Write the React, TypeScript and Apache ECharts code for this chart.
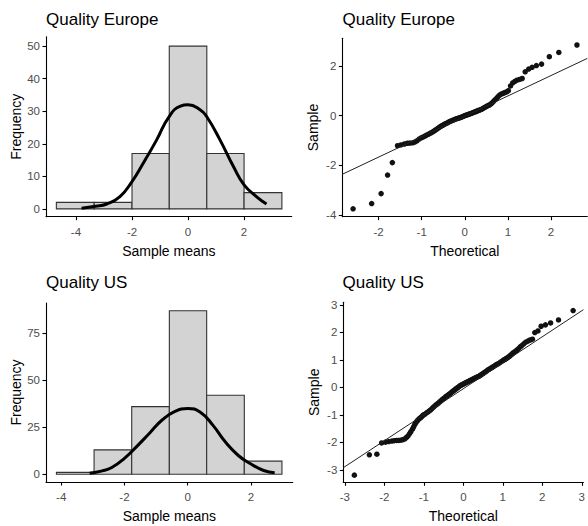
import React, { useEffect, useRef } from "react";
import * as echarts from "echarts";

// ---------- Data ----------
// Quality Europe histogram
const EU_BIN_EDGES = [-4.7, -3.35, -2.0, -0.67, 0.67, 2.0, 3.35];
const EU_COUNTS = [2, 2, 17, 50, 17, 5];
const EU_CURVE_X = [-3.8, -3.3, -2.9, -2.43, -2.0, -1.6, -1.12, -0.68, -0.27, 0, 0.44, 0.67, 1.14, 1.62, 2.0, 2.44, 2.8];
const EU_CURVE_Y = [0.2, 0.8, 1.5, 3.8, 8.4, 14, 21.2, 28.3, 31.6, 32, 30.4, 28.3, 21.2, 13, 7.4, 3.8, 1.5];

// Quality US histogram
const US_BIN_EDGES = [-4.15, -2.96, -1.77, -0.58, 0.6, 1.79, 2.98];
const US_COUNTS = [1, 13, 36, 87, 42, 7];
const US_CURVE_X = [-3.1, -2.7, -2.4, -2.0, -1.6, -1.2, -0.8, -0.4, 0, 0.4, 0.8, 1.2, 1.6, 2.0, 2.4, 2.75];
const US_CURVE_Y = [0.6, 1.8, 3.6, 8.5, 15, 22, 29, 33.5, 35, 33, 26, 17, 10, 5.5, 2, 0.8];

// Quality Europe QQ plot
const EU_QQ_THEO = [
  -2.59, -2.16, -1.94, -1.79, -1.68, -1.56, -1.48, -1.40, -1.33, -1.27, -1.21, -1.16, -1.11, -1.06, -1.01,
  -0.97, -0.925, -0.885, -0.845, -0.807, -0.771, -0.735, -0.70, -0.666, -0.633, -0.60, -0.568, -0.537, -0.506,
  -0.475, -0.445, -0.416, -0.386, -0.357, -0.329, -0.30, -0.272, -0.245, -0.217, -0.19, -0.162, -0.135, -0.108,
  -0.081, -0.054, -0.027, 0, 0.027, 0.054, 0.081, 0.108, 0.135, 0.162, 0.19, 0.217, 0.245, 0.272, 0.30, 0.329,
  0.357, 0.386, 0.416, 0.445, 0.475, 0.506, 0.537, 0.568, 0.60, 0.633, 0.666, 0.70, 0.735, 0.771, 0.807, 0.845,
  0.885, 0.925, 0.97, 1.01, 1.06, 1.11, 1.16, 1.21, 1.27, 1.33, 1.40, 1.48, 1.56, 1.66, 1.78, 1.96, 2.18, 2.6,
];
const EU_QQ_SAMPLE = [
  -3.75, -3.54, -3.14, -2.39, -1.89, -1.21, -1.18, -1.14, -1.11, -1.10, -1.09, -1.06, -1.01, -0.94, -0.89,
  -0.86, -0.82, -0.78, -0.75, -0.71, -0.68, -0.64, -0.60, -0.56, -0.52, -0.48, -0.44, -0.41, -0.38,
  -0.35, -0.32, -0.30, -0.27, -0.24, -0.22, -0.20, -0.18, -0.16, -0.14, -0.12, -0.11, -0.09, -0.08,
  -0.06, -0.04, -0.02, 0.0, 0.02, 0.03, 0.05, 0.07, 0.08, 0.10, 0.12, 0.14, 0.16, 0.18, 0.20, 0.22,
  0.24, 0.26, 0.29, 0.32, 0.35, 0.38, 0.41, 0.43, 0.47, 0.52, 0.58, 0.64, 0.70, 0.77, 0.83, 0.87,
  0.90, 0.93, 0.96, 1.01, 1.20, 1.32, 1.38, 1.43, 1.46, 1.50, 1.77, 1.88, 1.95, 2.02, 2.08, 2.38, 2.55, 2.85,
];
const EU_QQ_LINE_X = [-2.84, 2.84];
const EU_QQ_LINE_Y = [-2.36, 2.31];

// Quality US QQ plot
const US_QQ_THEO = [
  -2.76, -2.38, -2.19, -2.07, -1.97, -1.89, -1.81, -1.75, -1.69, -1.635, -1.58, -1.53, -1.48, -1.44, -1.40,
  -1.36, -1.33, -1.29, -1.26, -1.23, -1.20, -1.17, -1.14, -1.11, -1.08, -1.06, -1.03, -1.01, -0.97,
  -0.925, -0.885, -0.845, -0.807, -0.771, -0.735, -0.70, -0.666, -0.633, -0.60, -0.568, -0.537, -0.506,
  -0.475, -0.445, -0.416, -0.386, -0.357, -0.329, -0.30, -0.272, -0.245, -0.217, -0.19, -0.162, -0.135,
  -0.108, -0.081, -0.054, -0.027, 0, 0.027, 0.054, 0.081, 0.108, 0.135, 0.162, 0.19, 0.217, 0.245, 0.272,
  0.30, 0.329, 0.357, 0.386, 0.416, 0.445, 0.475, 0.506, 0.537, 0.568, 0.60, 0.633, 0.666, 0.70, 0.735,
  0.771, 0.807, 0.845, 0.885, 0.925, 0.97, 1.01, 1.03, 1.06, 1.08, 1.11, 1.14, 1.17, 1.20, 1.23, 1.26,
  1.29, 1.33, 1.36, 1.40, 1.44, 1.48, 1.53, 1.58, 1.635, 1.69, 1.75, 1.81, 1.89, 1.97, 2.08, 2.21, 2.41, 2.78,
];
const US_QQ_SAMPLE = [
  -3.19, -2.45, -2.43, -2.02, -1.99, -1.97, -1.95, -1.94, -1.93, -1.93, -1.92, -1.90, -1.87, -1.82, -1.76,
  -1.68, -1.61, -1.52, -1.44, -1.35, -1.28, -1.22, -1.17, -1.13, -1.10, -1.07, -1.03, -1.00, -0.97,
  -0.92, -0.88, -0.84, -0.79, -0.74, -0.69, -0.65, -0.61, -0.57, -0.53, -0.49, -0.45, -0.41,
  -0.38, -0.34, -0.31, -0.28, -0.25, -0.22, -0.18, -0.15, -0.12, -0.09, -0.06, -0.03, 0.0,
  0.03, 0.06, 0.08, 0.10, 0.12, 0.14, 0.16, 0.18, 0.20, 0.22, 0.24, 0.26, 0.28, 0.30, 0.32,
  0.34, 0.36, 0.38, 0.40, 0.42, 0.45, 0.48, 0.51, 0.54, 0.57, 0.61, 0.64, 0.67, 0.70, 0.73,
  0.76, 0.80, 0.83, 0.86, 0.90, 0.94, 0.98, 1.00, 1.02, 1.04, 1.07, 1.10, 1.13, 1.17, 1.21, 1.25,
  1.28, 1.32, 1.36, 1.41, 1.47, 1.52, 1.58, 1.64, 1.68, 1.72, 1.75, 1.99, 2.05, 2.22, 2.27, 2.34, 2.45, 2.79,
];
const US_QQ_LINE_X = [-3.04, 3.04];
const US_QQ_LINE_Y = [-2.92, 2.82];

// Tick labels
const HIST_X_TICKS = [-4, -2, 0, 2];
const EU_HIST_Y_TICKS = [0, 10, 20, 30, 40, 50];
const US_HIST_Y_TICKS = [0, 25, 50, 75];
const EU_QQ_X_TICKS = [-2, -1, 0, 1, 2];
const EU_QQ_Y_TICKS = [-4, -2, 0, 2];
const US_QQ_X_TICKS = [-3, -2, -1, 0, 1, 2, 3];
const US_QQ_Y_TICKS = [-3, -2, -1, 0, 1, 2, 3];

const TITLES = ["Quality Europe", "Quality Europe", "Quality US", "Quality US"];

// ---------- Helpers ----------
const FONT = "Liberation Sans, Arial, sans-serif";

function binsToData(edges: number[], counts: number[]) {
  return counts.map((c, i) => [edges[i], edges[i + 1], c]);
}
function zip(xs: number[], ys: number[]) {
  return xs.map((x, i) => [x, ys[i]]);
}

function makeAxis(
  gridIndex: number,
  min: number,
  max: number,
  ticks: number[],
  name: string,
  isX: boolean
) {
  return {
    type: "value",
    gridIndex,
    min,
    max,
    name,
    nameLocation: "middle",
    nameGap: isX ? 27 : 22,
    nameTextStyle: { fontSize: 14, color: "#000", fontFamily: FONT },
    axisLine: { show: true, onZero: false, lineStyle: { color: "#000", width: 1.1 } },
    axisTick: {
      show: true,
      length: 3.5,
      customValues: ticks,
      lineStyle: { color: "#000", width: 1.1 },
    },
    axisLabel: {
      show: true,
      customValues: ticks,
      color: "#4d4d4d",
      fontSize: 11.5,
      fontFamily: FONT,
      margin: isX ? 9 : 6,
    },
    splitLine: { show: false },
  };
}

function histRenderItem(params: any, api: any) {
  const lo = api.value(0);
  const hi = api.value(1);
  const c = api.value(2);
  const p0 = api.coord([lo, c]);
  const p1 = api.coord([hi, 0]);
  return {
    type: "rect",
    shape: { x: p0[0], y: p0[1], width: p1[0] - p0[0], height: p1[1] - p0[1] },
    style: { fill: "#d3d3d3", stroke: "#333333", lineWidth: 1.1 },
  };
}

export default function App() {
  const ref = useRef<HTMLDivElement>(null);

  useEffect(() => {
    if (!ref.current) return;
    const chart = echarts.init(ref.current, null, { renderer: "svg" });

    const grids = [
      { left: 46, top: 36.7, width: 245.7, height: 180 },
      { left: 342.3, top: 38.3, width: 245, height: 178.4 },
      { left: 46, top: 303, width: 246.7, height: 179 },
      { left: 343.3, top: 302.3, width: 243.7, height: 180 },
    ];

    const titlePos = [
      { left: 46, top: 11 },
      { left: 342.5, top: 11 },
      { left: 46, top: 274 },
      { left: 342.5, top: 274 },
    ];

    const option: any = {
      animation: false,
      backgroundColor: "#fff",
      textStyle: { fontFamily: FONT },
      title: TITLES.map((t, i) => ({
        text: t,
        left: titlePos[i].left,
        top: titlePos[i].top,
        padding: 0,
        textStyle: { fontSize: 17, fontWeight: "normal", color: "#000", fontFamily: FONT },
      })),
      grid: grids.map((g) => ({ ...g, containLabel: false })),
      xAxis: [
        makeAxis(0, -5.07, 3.7, HIST_X_TICKS, "Sample means", true),
        makeAxis(1, -2.84, 2.84, EU_QQ_X_TICKS, "Theoretical", true),
        makeAxis(2, -4.48, 3.32, HIST_X_TICKS, "Sample means", true),
        makeAxis(3, -3.04, 3.04, US_QQ_X_TICKS, "Theoretical", true),
      ],
      yAxis: [
        makeAxis(0, -2.4, 52.9, EU_HIST_Y_TICKS, "Frequency", false),
        makeAxis(1, -4.07, 3.12, EU_QQ_Y_TICKS, "Sample", false),
        makeAxis(2, -4.1, 91.1, US_HIST_Y_TICKS, "Frequency", false),
        makeAxis(3, -3.45, 3.09, US_QQ_Y_TICKS, "Sample", false),
      ],
      series: [
        {
          type: "custom",
          xAxisIndex: 0,
          yAxisIndex: 0,
          renderItem: histRenderItem,
          encode: { x: [0, 1], y: 2 },
          data: binsToData(EU_BIN_EDGES, EU_COUNTS),
        },
        {
          type: "line",
          xAxisIndex: 0,
          yAxisIndex: 0,
          smooth: true,
          showSymbol: false,
          lineStyle: { color: "#000", width: 3 },
          data: zip(EU_CURVE_X, EU_CURVE_Y),
        },
        {
          type: "line",
          xAxisIndex: 1,
          yAxisIndex: 1,
          showSymbol: false,
          lineStyle: { color: "#222", width: 1 },
          data: zip(EU_QQ_LINE_X, EU_QQ_LINE_Y),
        },
        {
          type: "scatter",
          xAxisIndex: 1,
          yAxisIndex: 1,
          symbolSize: 5.5,
          itemStyle: { color: "#111", opacity: 1 },
          data: zip(EU_QQ_THEO, EU_QQ_SAMPLE),
        },
        {
          type: "custom",
          xAxisIndex: 2,
          yAxisIndex: 2,
          renderItem: histRenderItem,
          encode: { x: [0, 1], y: 2 },
          data: binsToData(US_BIN_EDGES, US_COUNTS),
        },
        {
          type: "line",
          xAxisIndex: 2,
          yAxisIndex: 2,
          smooth: true,
          showSymbol: false,
          lineStyle: { color: "#000", width: 3 },
          data: zip(US_CURVE_X, US_CURVE_Y),
        },
        {
          type: "line",
          xAxisIndex: 3,
          yAxisIndex: 3,
          showSymbol: false,
          lineStyle: { color: "#222", width: 1 },
          data: zip(US_QQ_LINE_X, US_QQ_LINE_Y),
        },
        {
          type: "scatter",
          xAxisIndex: 3,
          yAxisIndex: 3,
          symbolSize: 5.5,
          itemStyle: { color: "#111", opacity: 1 },
          data: zip(US_QQ_THEO, US_QQ_SAMPLE),
        },
      ],
    };

    chart.setOption(option);
    return () => {
      chart.dispose();
    };
  }, []);

  return (
    <div
      ref={ref}
      style={{ position: "fixed", left: 0, top: 0, width: 588, height: 526, background: "#fff" }}
    />
  );
}
